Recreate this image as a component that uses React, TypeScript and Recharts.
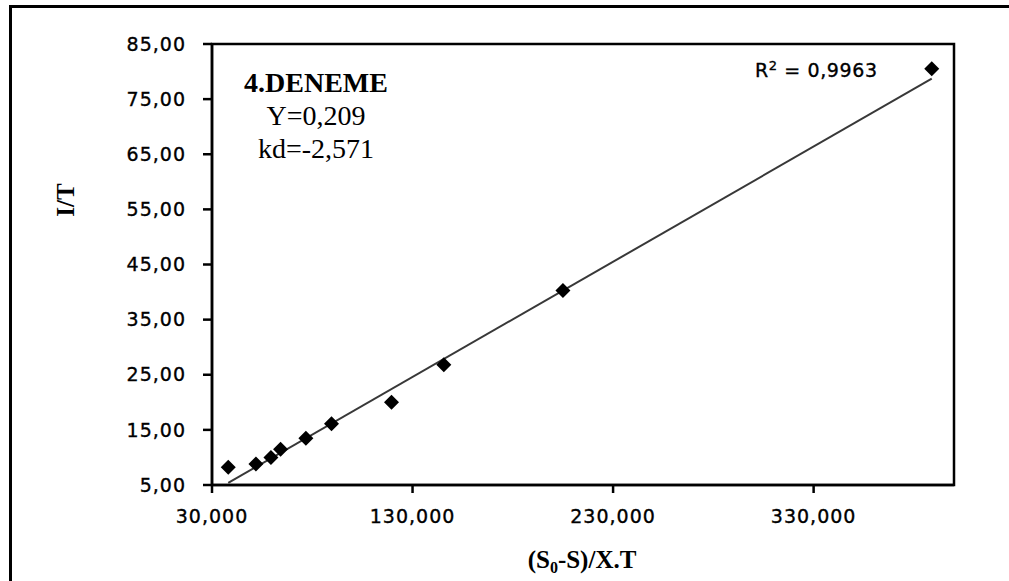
import { ScatterChart, Scatter, XAxis, YAxis, ReferenceLine, ReferenceArea } from "recharts";

// (S0-S)/X.T values and the matching 1/T values
const loadValues = [38100, 51900, 59400, 64200, 76800, 89600, 119500, 145600, 205000, 388900];
const rateValues = [8.2, 8.8, 10.0, 11.5, 13.5, 16.1, 20.0, 26.8, 40.3, 80.5];

const xTicks = [30000, 130000, 230000, 330000];
const yTicks = [5, 15, 25, 35, 45, 55, 65, 75, 85];

// linear fit: Y is the slope per 1000 units, kd the intercept
const fitSlope = 0.209;
const fitIntercept = -2.571;
const fitR2 = "0,9963";

const points = loadValues.map((x, i) => ({ x, y: rateValues[i] }));

const fitAt = (x: number) => (fitSlope * x) / 1000 + fitIntercept;
const xFirst = loadValues[0];
const xLast = loadValues[loadValues.length - 1];

const tickStyle = {
  fill: "#000",
  stroke: "#000",
  strokeWidth: 0.35,
  fontFamily: "DejaVu Sans",
  fontSize: 19,
  letterSpacing: 1,
};

const Diamond = (props: any) => {
  const { cx, cy } = props;
  const r = 7.5;
  return <path d={`M${cx},${cy - r}L${cx + r},${cy}L${cx},${cy + r}L${cx - r},${cy}Z`} fill="#000" />;
};

const serif = "'Liberation Serif', 'Times New Roman', serif";

export default function App() {
  return (
    <div
      style={{
        position: "absolute",
        left: 0,
        top: 0,
        width: 1009,
        height: 581,
        overflow: "hidden",
        background: "#fff",
      }}
    >
      <div
        style={{
          position: "absolute",
          left: 9,
          top: 5,
          width: 1200,
          height: 800,
          borderTop: "3px solid #000",
          borderLeft: "3.5px solid #000",
        }}
      />
      <div style={{ position: "absolute", left: 0, top: 0 }}>
        <ScatterChart width={1009} height={581} margin={{ top: 44, right: 55, bottom: 0, left: 0 }}>
          <XAxis
            type="number"
            dataKey="x"
            domain={[30000, 400000]}
            ticks={xTicks}
            allowDataOverflow
            height={96}
            tick={tickStyle}
            tickFormatter={(v: number) => v.toLocaleString("en-US")}
            tickSize={8}
            tickMargin={17}
            axisLine={{ stroke: "#000", strokeWidth: 2.5 }}
            tickLine={{ stroke: "#000", strokeWidth: 2.5 }}
          />
          <YAxis
            type="number"
            dataKey="y"
            domain={[5, 85]}
            ticks={yTicks}
            allowDataOverflow
            width={212}
            tick={tickStyle}
            tickFormatter={(v: number) => v.toFixed(2).replace(".", ",")}
            tickSize={9}
            tickMargin={17}
            axisLine={{ stroke: "#000", strokeWidth: 2.5 }}
            tickLine={{ stroke: "#000", strokeWidth: 2.5 }}
          />
          <ReferenceArea
            x1={30000}
            x2={400000}
            y1={5}
            y2={85}
            fill="none"
            fillOpacity={0}
            stroke="#000"
            strokeWidth={2.5}
          />
          <ReferenceLine
            segment={[
              { x: xFirst, y: fitAt(xFirst) },
              { x: xLast, y: fitAt(xLast) },
            ]}
            stroke="#383838"
            strokeWidth={2}
          />
          <Scatter data={points} shape={Diamond} isAnimationActive={false} />
        </ScatterChart>
      </div>
      <svg
        width={1009}
        height={581}
        style={{ position: "absolute", left: 0, top: 0, pointerEvents: "none" }}
      >
        <text x={316} y={92} textAnchor="middle" fontFamily={serif} fontWeight="bold" fontSize={28} fill="#000">
          4.DENEME
        </text>
        <text x={316} y={125} textAnchor="middle" fontFamily={serif} fontSize={28} fill="#000">
          {`Y=${fitSlope.toFixed(3).replace(".", ",")}`}
        </text>
        <text x={316} y={158} textAnchor="middle" fontFamily={serif} fontSize={28} fill="#000">
          {`kd=${fitIntercept.toFixed(3).replace(".", ",")}`}
        </text>
        <text
          x={755}
          y={77}
          fontFamily="DejaVu Sans"
          fontSize={19}
          letterSpacing={0.6}
          fill="#000"
          stroke="#000"
          strokeWidth={0.35}
        >
          R<tspan fontSize={13} dy={-7}>2</tspan>
          <tspan dy={7}>{` = ${fitR2}`}</tspan>
        </text>
        <text x={582} y={568} textAnchor="middle" fontFamily={serif} fontWeight="bold" fontSize={25} fill="#000">
          (S<tspan fontSize={16} dy={5}>0</tspan>
          <tspan dy={-5}>-S)/X.T</tspan>
        </text>
        <text
          transform="translate(74,200) rotate(-90)"
          textAnchor="middle"
          fontFamily={serif}
          fontWeight="bold"
          fontSize={25}
          fill="#000"
        >
          I/T
        </text>
      </svg>
    </div>
  );
}
